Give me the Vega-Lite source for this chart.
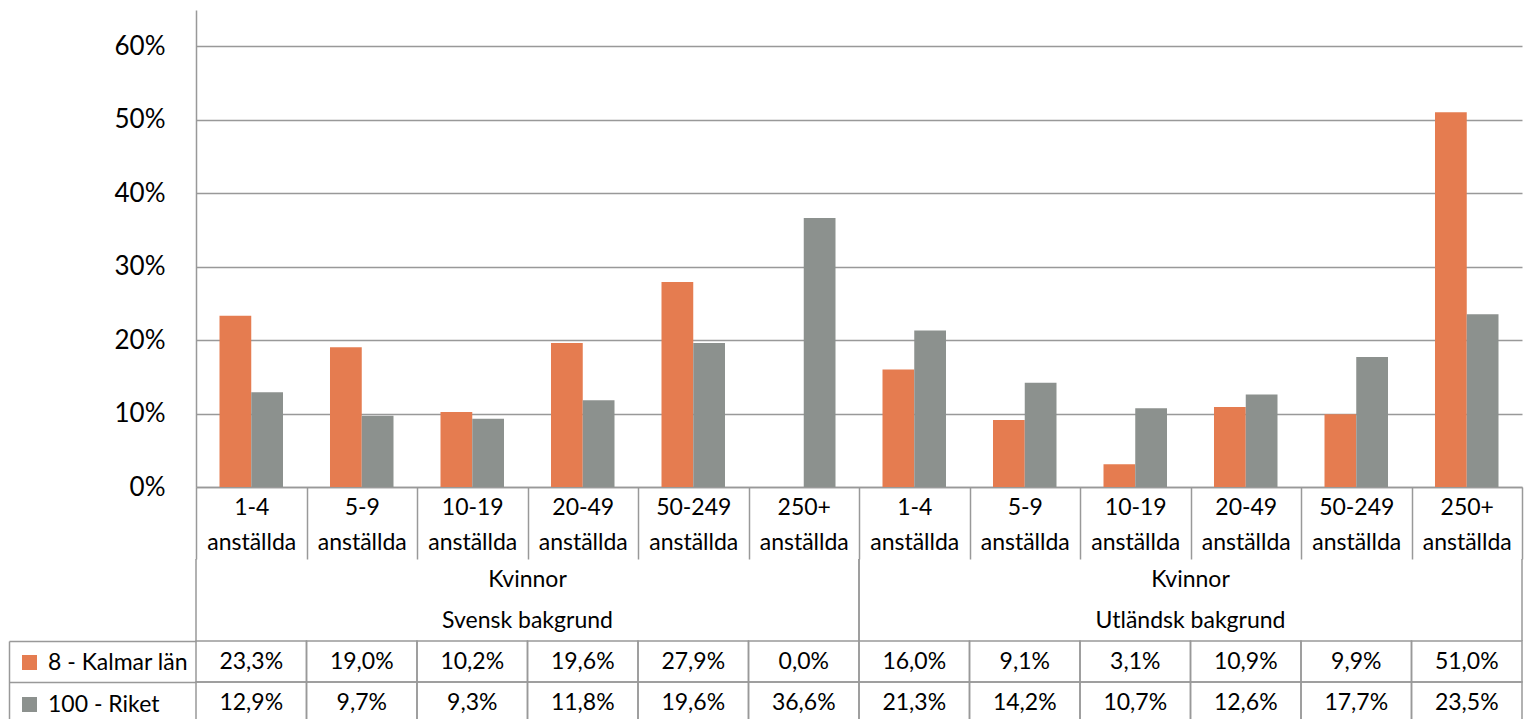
{
  "$schema": "https://vega.github.io/schema/vega-lite/v6.json",
  "width": 1326,
  "height": 477,
  "autosize": {"type": "none"},
  "padding": {"left": 196, "top": 10, "right": 5, "bottom": 232},
  "background": "white",
  "config": {
    "font": "Lato",
    "view": {"stroke": null},
    "locale": {"number": {"decimal": ",", "thousands": " ", "grouping": [3], "currency": ["", " kr"]}},
    "axis": {"labelFont": "Lato", "labelColor": "#000000"},
    "legend": {"labelFont": "Lato"}
  },
  "datasets": {
    "bars": [
      {"cat": "S:1-4", "series": "8 - Kalmar län", "value": 0.233},
      {"cat": "S:5-9", "series": "8 - Kalmar län", "value": 0.190},
      {"cat": "S:10-19", "series": "8 - Kalmar län", "value": 0.102},
      {"cat": "S:20-49", "series": "8 - Kalmar län", "value": 0.196},
      {"cat": "S:50-249", "series": "8 - Kalmar län", "value": 0.279},
      {"cat": "S:250+", "series": "8 - Kalmar län", "value": 0.0},
      {"cat": "U:1-4", "series": "8 - Kalmar län", "value": 0.160},
      {"cat": "U:5-9", "series": "8 - Kalmar län", "value": 0.091},
      {"cat": "U:10-19", "series": "8 - Kalmar län", "value": 0.031},
      {"cat": "U:20-49", "series": "8 - Kalmar län", "value": 0.109},
      {"cat": "U:50-249", "series": "8 - Kalmar län", "value": 0.099},
      {"cat": "U:250+", "series": "8 - Kalmar län", "value": 0.510},
      {"cat": "S:1-4", "series": "100 - Riket", "value": 0.129},
      {"cat": "S:5-9", "series": "100 - Riket", "value": 0.097},
      {"cat": "S:10-19", "series": "100 - Riket", "value": 0.093},
      {"cat": "S:20-49", "series": "100 - Riket", "value": 0.118},
      {"cat": "S:50-249", "series": "100 - Riket", "value": 0.196},
      {"cat": "S:250+", "series": "100 - Riket", "value": 0.366},
      {"cat": "U:1-4", "series": "100 - Riket", "value": 0.213},
      {"cat": "U:5-9", "series": "100 - Riket", "value": 0.142},
      {"cat": "U:10-19", "series": "100 - Riket", "value": 0.107},
      {"cat": "U:20-49", "series": "100 - Riket", "value": 0.126},
      {"cat": "U:50-249", "series": "100 - Riket", "value": 0.177},
      {"cat": "U:250+", "series": "100 - Riket", "value": 0.235}
    ],
    "groups": [
      {"first": "S:1-4", "mid": "S:10-19", "last": "S:250+", "row": "kvinnor", "label": "Kvinnor"},
      {"first": "S:1-4", "mid": "S:10-19", "last": "S:250+", "row": "bakgrund", "label": "Svensk bakgrund"},
      {"first": "U:1-4", "mid": "U:10-19", "last": "U:250+", "row": "kvinnor", "label": "Kvinnor"},
      {"first": "U:1-4", "mid": "U:10-19", "last": "U:250+", "row": "bakgrund", "label": "Utländsk bakgrund"}
    ]
  },
  "layer": [
    {
      "data": {"name": "bars"},
      "mark": {"type": "bar"},
      "encoding": {
        "x": {
          "field": "cat", "type": "nominal",
          "scale": {"domain": ["S:1-4","S:5-9","S:10-19","S:20-49","S:50-249","S:250+","U:1-4","U:5-9","U:10-19","U:20-49","U:50-249","U:250+"], "paddingInner": 0, "paddingOuter": 0},
          "axis": {
            "title": null, "orient": "bottom",
            "tickBand": "extent", "tickSize": 72, "tickColor": "#999999", "tickWidth": 1.5,
            "domain": true, "domainColor": "#999999", "domainWidth": 1.5,
            "labelExpr": "datum.label ? [split(datum.label, ':')[1], 'anställda'] : ''",
            "labelFontSize": 23, "labelLineHeight": 35, "labelPadding": -63,
            "labelAngle": 0, "labelOverlap": false, "grid": false
          }
        },
        "xOffset": {
          "field": "series", "type": "nominal",
          "scale": {"domain": ["8 - Kalmar län", "100 - Riket"], "paddingInner": 0, "paddingOuter": 0.74}
        },
        "y": {
          "field": "value", "type": "quantitative",
          "scale": {"domain": [0, 0.649], "nice": false, "zero": true},
          "axis": {
            "title": null, "orient": "left",
            "values": [0, 0.1, 0.2, 0.3, 0.4, 0.5, 0.6], "format": ".0%",
            "grid": true, "gridColor": "#999999", "gridWidth": 1.5,
            "domain": true, "domainColor": "#999999", "domainWidth": 1.5,
            "ticks": false, "labelFontSize": 26, "labelPadding": 31
          }
        },
        "color": {
          "field": "series", "type": "nominal",
          "scale": {"domain": ["8 - Kalmar län", "100 - Riket"], "range": ["#E57C50", "#8C918E"]},
          "legend": {
            "title": null, "orient": "none", "legendX": -178, "legendY": 641,
            "direction": "vertical", "symbolType": "square", "symbolSize": 225,
            "symbolStrokeWidth": 0, "labelFontSize": 23, "labelOffset": 7,
            "rowPadding": 18, "padding": 0, "labelColor": "#000000"
          }
        }
      }
    },
    {
      "data": {"name": "bars"},
      "layer": [
        {
          "mark": {"type": "rect", "fillOpacity": 0, "stroke": "#999999", "strokeWidth": 1.5},
          "encoding": {
            "x": {"field": "cat", "type": "nominal", "scale": {"domain": ["S:1-4","S:5-9","S:10-19","S:20-49","S:50-249","S:250+","U:1-4","U:5-9","U:10-19","U:20-49","U:50-249","U:250+"]}},
            "y": {"field": "series", "type": "nominal", "scale": {"domain": ["8 - Kalmar län", "100 - Riket"], "range": [631, 713], "paddingInner": 0, "paddingOuter": 0}}
          }
        },
        {
          "mark": {"type": "text", "fontSize": 23, "color": "#000000", "baseline": "middle"},
          "encoding": {
            "x": {"field": "cat", "type": "nominal", "scale": {"domain": ["S:1-4","S:5-9","S:10-19","S:20-49","S:50-249","S:250+","U:1-4","U:5-9","U:10-19","U:20-49","U:50-249","U:250+"]}},
            "y": {
              "field": "series", "type": "nominal",
              "scale": {"domain": ["8 - Kalmar län", "100 - Riket"], "range": [631, 713], "paddingInner": 0, "paddingOuter": 0},
              "axis": {
                "title": null, "orient": "left", "offset": 187, "tickSize": -187,
                "tickBand": "extent", "tickColor": "#999999", "tickWidth": 1.5,
                "domain": true, "domainColor": "#999999", "domainWidth": 1.5,
                "labels": false, "grid": false
              }
            },
            "text": {"field": "value", "type": "quantitative", "format": ".1%"}
          }
        }
      ],
      "resolve": {"scale": {"y": "shared"}}
    },
    {
      "data": {"name": "groups"},
      "layer": [
        {
          "mark": {"type": "rule", "stroke": "#999999", "strokeWidth": 1.5},
          "encoding": {
            "x": {"field": "first", "type": "nominal", "bandPosition": 0, "scale": {"domain": ["S:1-4","S:5-9","S:10-19","S:20-49","S:50-249","S:250+","U:1-4","U:5-9","U:10-19","U:20-49","U:50-249","U:250+"]}},
            "y": {"field": "row", "type": "nominal", "bandPosition": 0, "scale": {"domain": ["kvinnor", "bakgrund"], "range": [549, 631], "paddingInner": 0, "paddingOuter": 0}, "axis": null},
            "y2": {"field": "row", "bandPosition": 1}
          }
        },
        {
          "mark": {"type": "rule", "stroke": "#999999", "strokeWidth": 1.5},
          "encoding": {
            "x": {"field": "last", "type": "nominal", "bandPosition": 1, "scale": {"domain": ["S:1-4","S:5-9","S:10-19","S:20-49","S:50-249","S:250+","U:1-4","U:5-9","U:10-19","U:20-49","U:50-249","U:250+"]}},
            "y": {"field": "row", "type": "nominal", "bandPosition": 0, "scale": {"domain": ["kvinnor", "bakgrund"], "range": [549, 631], "paddingInner": 0, "paddingOuter": 0}, "axis": null},
            "y2": {"field": "row", "bandPosition": 1}
          }
        },
        {
          "mark": {"type": "text", "fontSize": 23, "color": "#000000", "baseline": "middle"},
          "encoding": {
            "x": {"field": "mid", "type": "nominal", "bandPosition": 1, "scale": {"domain": ["S:1-4","S:5-9","S:10-19","S:20-49","S:50-249","S:250+","U:1-4","U:5-9","U:10-19","U:20-49","U:50-249","U:250+"]}},
            "y": {"field": "row", "type": "nominal", "scale": {"domain": ["kvinnor", "bakgrund"], "range": [549, 631], "paddingInner": 0, "paddingOuter": 0}, "axis": null},
            "text": {"field": "label", "type": "nominal"}
          }
        }
      ],
      "resolve": {"scale": {"y": "shared"}}
    }
  ],
  "resolve": {"scale": {"y": "independent"}, "axis": {"y": "independent"}}
}
